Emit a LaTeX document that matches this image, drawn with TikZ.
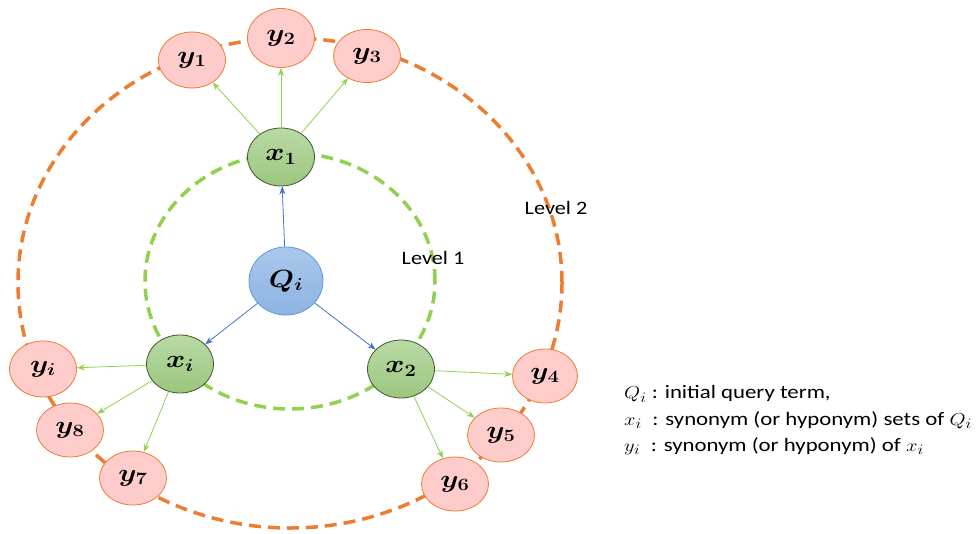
\documentclass[tikz,border=0pt]{standalone}
\usepackage{fontspec}
\setmainfont{Carlito}
\usepackage{amsmath,bm,graphicx}
\usetikzlibrary{shapes.geometric,arrows.meta}
\definecolor{pinkfill}{HTML}{FFCCCC}
\definecolor{orangeline}{HTML}{ED7D31}
\definecolor{greenline}{HTML}{92D050}
\definecolor{greentop}{HTML}{B9DAA5}
\definecolor{greenbot}{HTML}{9CC67F}
\definecolor{greenborder}{HTML}{3F5A2A}
\definecolor{bluetop}{HTML}{A9C8EC}
\definecolor{bluebot}{HTML}{8DB3E2}
\definecolor{blueborder}{HTML}{5B9BD5}
\definecolor{bluearrow}{HTML}{4472C4}
\newcommand{\lab}[1]{\scalebox{1.17}[1]{$\bm{#1}$}}
\newcommand{\wide}[1]{\scalebox{1.17}[1]{#1}}
\newcommand{\legwide}[1]{\scalebox{1.2}[1]{#1}}
\tikzset{
  x=1pt, y=-1pt,
  base/.style={ellipse, inner sep=0pt, minimum width=67pt, minimum height=56pt, font=\fontsize{24}{28}\selectfont},
  ynode/.style={base, draw=orangeline, line width=0.8pt, fill=pinkfill},
  xnode/.style={base, draw=greenborder, line width=0.8pt, top color=greentop, bottom color=greenbot, minimum height=58pt},
  qnode/.style={base, draw=blueborder, line width=0.8pt, top color=bluetop, bottom color=bluebot, minimum width=74pt, minimum height=68pt},
  lvl1/.style={draw=greenline, line width=3.5pt, dash pattern=on 12pt off 7pt},
  lvl2/.style={draw=orangeline, line width=3.5pt, dash pattern=on 12pt off 7pt},
  garrow/.style={draw=greenline, line width=0.8pt, -{Stealth[length=8pt,width=6pt]}},
  barrow/.style={draw=bluearrow, line width=0.8pt, -{Stealth[length=8pt,width=6pt]}},
  txt/.style={font=\fontsize{19}{22}\selectfont, inner sep=0pt},
  legend/.style={font=\fontsize{19}{22}\selectfont, inner sep=0pt, anchor=west},
}
\begin{document}
\begin{tikzpicture}
\useasboundingbox (0,0) rectangle (977,533);
% level circles
\draw[lvl2] (290,283) ellipse [x radius=272pt, y radius=245pt];
\draw[lvl1] (290,281) ellipse [x radius=145pt, y radius=128pt];
% labels
\node[txt] (l1) at (433,258) {\wide{Level 1}};
\node[txt] (l2) at (556,208) {\wide{Level 2}};
% nodes
\node[qnode] (q) at (286,281) {\lab{Q_i}};
\node[xnode] (x1) at (281,157) {\lab{x_1}};
\node[xnode] (xi) at (180,364) {\lab{x_i}};
\node[xnode] (x2) at (401,369) {\lab{x_2}};
\node[ynode] (y1) at (192,60) {\lab{y_1}};
\node[ynode, minimum height=59pt] (y2) at (281,38) {\lab{y_2}};
\node[ynode, minimum height=53pt] (y3) at (367,56) {\lab{y_3}};
\node[ynode] (yi) at (43,369) {\lab{y_i}};
\node[ynode, minimum height=54pt] (y8) at (70,430) {\lab{y_8}};
\node[ynode, minimum height=54pt] (y7) at (133,478) {\lab{y_7}};
\node[ynode, minimum width=65pt, minimum height=54pt] (y4) at (545,376) {\lab{y_4}};
\node[ynode, minimum height=54pt] (y5) at (501,435) {\lab{y_5}};
\node[ynode, minimum height=54pt] (y6) at (455,484) {\lab{y_6}};
% arrows
\draw[barrow] (q) -- (x1);
\draw[barrow] (q) -- (xi);
\draw[barrow] (q) -- (x2);
\draw[garrow] (x1) -- (y1);
\draw[garrow] (x1) -- (y2);
\draw[garrow] (x1) -- (y3);
\draw[garrow] (xi) -- (yi);
\draw[garrow] (xi) -- (y8);
\draw[garrow] (xi) -- (y7);
\draw[garrow] (x2) -- (y4);
\draw[garrow] (x2) -- (y5);
\draw[garrow] (x2) -- (y6);
% legend
\node[legend] (lg1) at (624,394) {\legwide{$Q_i$ : initial query term,}};
\node[legend] (lg2) at (624,420) {\legwide{$x_i$\ \ : synonym (or hyponym) sets of $Q_i$}};
\node[legend] (lg3) at (624,446) {\legwide{$y_i$\ \ : synonym (or hyponym) of $x_i$}};
\end{tikzpicture}
\end{document}
